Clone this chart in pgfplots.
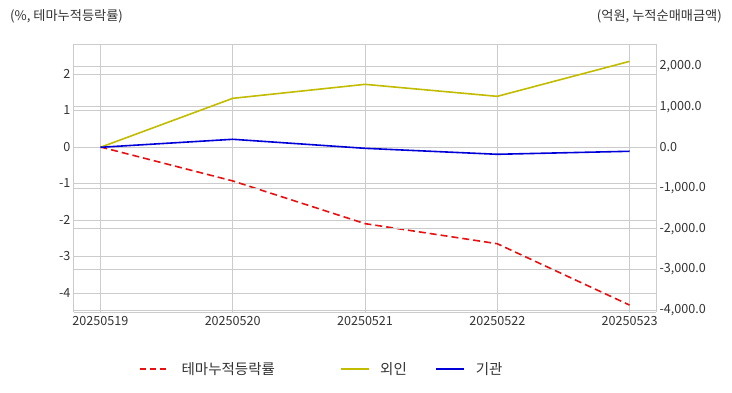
\documentclass[border=0pt]{standalone}
\usepackage{pgfplots}
\pgfplotsset{compat=1.18}
\usepackage{fontspec}
\setmainfont{Noto Sans CJK KR}
\definecolor{txt}{HTML}{333333}
\definecolor{gridc}{HTML}{CCCCCC}
\definecolor{redl}{HTML}{E81010}
\definecolor{olive}{HTML}{C2BC00}
\definecolor{bluel}{HTML}{0000D8}
\begin{document}
\begin{tikzpicture}
\useasboundingbox (0pt,0pt) rectangle (732pt,392pt);
\node[anchor=west,font=\fontsize{13.2}{14}\selectfont,text=txt,inner sep=0] at (10pt,376pt) {(\%, 테마누적등락률)};
\node[anchor=east,font=\fontsize{13.2}{14}\selectfont,text=txt,inner sep=0] at (722pt,376pt) {(억원, 누적순매매금액)};
\pgfplotsset{
  base/.style={
    at={(74pt,80pt)}, anchor=south west,
    scale only axis, width=582pt, height=268pt,
    xmin=-0.2, xmax=4.2,
    xtick={0,1,2,3,4},
    major tick length=0pt,
    ticklabel style={font=\fontsize{12.6}{12.6}\selectfont, text=txt},
    /pgf/number format/assume math mode=true,
    axis line style={gridc, line width=1pt},
    grid style={gridc, line width=0.8pt},
  }
}
\begin{axis}[base,
  ymin=-4.52, ymax=2.82,
  ytick={-4,-3,-2,-1,0,1,2},
  xticklabels={20250519,20250520,20250521,20250522,20250523},
  xticklabel style={yshift=-1pt},
  xmajorgrids, ymajorgrids,
  axis y line*=left, axis x line*=bottom,
  yticklabel style={/pgf/number format/fixed},
]
\addplot[redl, line width=1.6pt, dash pattern=on 7pt off 4pt] coordinates {(0,0) (1,-0.93) (2,-2.10) (3,-2.65) (4,-4.33)};
\end{axis}
\begin{axis}[base,
  ymin=-4050, ymax=2540,
  ytick={-4000,-3000,-2000,-1000,0,1000,2000},
  xticklabels={},
  ymajorgrids,
  axis y line*=right, axis x line*=top,
  yticklabel style={/pgf/number format/.cd, fixed, fixed zerofill, precision=1, 1000 sep={,}},
  scaled y ticks=false,
  legend style={draw=none, fill=none, at={(0.1117,-0.2127)}, anchor=west, inner sep=0pt, outer sep=0pt,
    font=\fontsize{14.5}{14.5}\selectfont, text=txt, legend columns=3,
    /tikz/every even column/.style={column sep=0pt}},
  legend cell align=left,
  legend image code/.code={\draw[#1] (0pt,0pt) -- (28pt,0pt);},
]
\addlegendimage{redl, line width=1.6pt, dash pattern=on 6pt off 4pt}
\addlegendentry{\makebox[168pt][l]{\hspace{11pt}테마누적등락률}}
\addplot[olive, line width=1.6pt] coordinates {(0,0) (1,1204) (2,1548) (3,1253) (4,2113)};
\addlegendentry{\makebox[61pt][l]{\hspace{8pt}외인}}
\addplot[bluel, line width=1.6pt] coordinates {(0,0) (1,197) (2,-25) (3,-172) (4,-98)};
\addlegendentry{\hspace{9pt}기관}
\end{axis}
\end{tikzpicture}
\end{document}
